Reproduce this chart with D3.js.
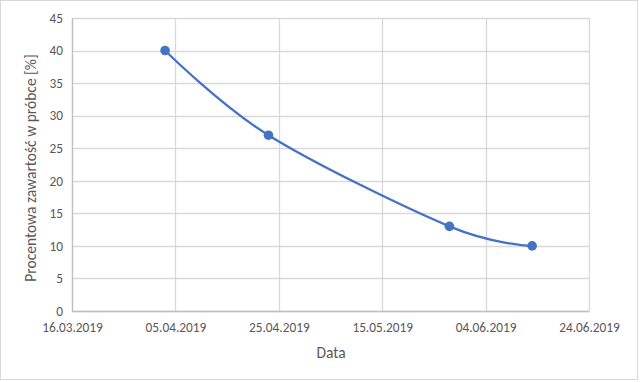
<!DOCTYPE html>
<html>
<head>
<meta charset="utf-8">
<script src="https://cdn.jsdelivr.net/npm/d3@7"></script>
<style>
  body { margin: 0; background: #fff; }
  svg text { font-family: Calibri, Carlito, "Liberation Sans", sans-serif; fill: #595959; }
</style>
</head>
<body>
<div id="plot"></div>
<script>
const dates = ["03.04.2019", "23.04.2019", "28.05.2019", "13.06.2019"];
const values = [40, 27, 13, 10];
const xTicks = ["16.03.2019", "05.04.2019", "25.04.2019", "15.05.2019", "04.06.2019", "24.06.2019"];
const yTicks = [0, 5, 10, 15, 20, 25, 30, 35, 40, 45];

const w = 640, h = 382;
const parse = d3.timeParse("%d.%m.%Y");
const fmt = d3.timeFormat("%d.%m.%Y");
const m = { left: 72, right: 51, top: 18, bottom: 71 };

const svg = d3.select("#plot").append("svg").attr("width", w).attr("height", h);

// chart border
svg.append("rect")
  .attr("x", 0.5).attr("y", 0.5)
  .attr("width", w - 3).attr("height", h - 3)
  .attr("fill", "#fff").attr("stroke", "#d9d9d9");

const x = d3.scaleUtc()
  .domain([parse(xTicks[0]), parse(xTicks[xTicks.length - 1])])
  .range([m.left, w - m.right]);
const y = d3.scaleLinear().domain([0, 45]).range([h - m.bottom, m.top]);

// grid
svg.append("g").selectAll("line").data(yTicks).enter().append("line")
  .attr("x1", m.left).attr("x2", w - m.right)
  .attr("y1", d => Math.round(y(d)) + 0.5).attr("y2", d => Math.round(y(d)) + 0.5)
  .attr("stroke", "#d9d9d9").attr("stroke-width", 1.3);
svg.append("g").selectAll("line").data(xTicks).enter().append("line")
  .attr("x1", d => Math.round(x(parse(d))) + 0.5).attr("x2", d => Math.round(x(parse(d))) + 0.5)
  .attr("y1", m.top).attr("y2", h - m.bottom)
  .attr("stroke", "#d9d9d9").attr("stroke-width", 1.3);

// axes
const xAxis = d3.axisBottom(x).tickValues(xTicks.map(parse)).tickFormat(fmt).tickSize(0).tickPadding(12);
const gx = svg.append("g").attr("transform", `translate(0,${h - m.bottom})`).call(xAxis);
gx.select(".domain").attr("stroke", "#bfbfbf").attr("stroke-width", 1.3);
gx.selectAll("text").attr("font-size", "13.3px").style("fill", "#595959");

const yAxis = d3.axisLeft(y).tickValues(yTicks).tickSize(0).tickPadding(9);
const gy = svg.append("g").attr("transform", `translate(${m.left},0)`).call(yAxis);
gy.select(".domain").attr("stroke", "#bfbfbf").attr("stroke-width", 1.3);
gy.selectAll("text").attr("font-size", "13.3px").style("fill", "#595959");

// titles
svg.append("text")
  .attr("x", 331).attr("y", 358)
  .attr("text-anchor", "middle").attr("font-size", "15.5px").text("Data");
svg.append("text")
  .attr("transform", `translate(36,168) rotate(-90)`)
  .attr("text-anchor", "middle").attr("font-size", "15.5px").text("Procentowa zawartość w próbce [%]");

// series
const pts = dates.map((d, i) => [parse(d), values[i]]);
const line = d3.line().x(d => x(d[0])).y(d => y(d[1])).curve(d3.curveCatmullRom.alpha(0));
svg.append("path").datum(pts)
  .attr("d", line).attr("fill", "none")
  .attr("stroke", "#4472C4").attr("stroke-width", 2.25);
svg.append("g").selectAll("circle").data(pts).enter().append("circle")
  .attr("cx", d => x(d[0])).attr("cy", d => y(d[1])).attr("r", 4.8)
  .attr("fill", "#4472C4");
</script>
</body>
</html>
